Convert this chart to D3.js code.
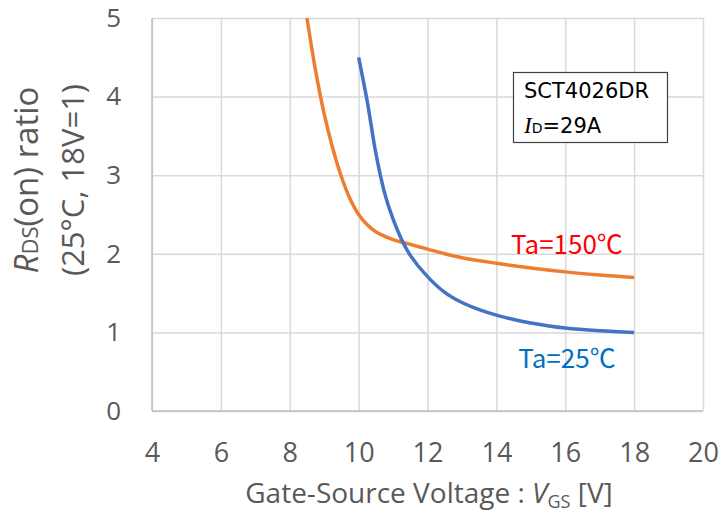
<!DOCTYPE html>
<html>
<head>
<meta charset="utf-8">
<script src="https://cdn.jsdelivr.net/npm/d3@7"></script>
<style>
  body { margin: 0; background: #fff; }
  svg { display: block; }
</style>
</head>
<body>
<script>
// Data
const xTicks = [4, 6, 8, 10, 12, 14, 16, 18, 20];
const yTicks = [0, 1, 2, 3, 4, 5];

const vgsHot = [8.5, 8.75, 9, 9.25, 9.5, 9.75, 10, 10.25, 10.5, 11, 11.5, 12, 12.5, 13, 14, 15, 16, 17, 18];
const ratioHot = [5.0, 4.33, 3.78, 3.34, 2.98, 2.70, 2.50, 2.37, 2.28, 2.18, 2.12, 2.06, 2.0, 1.95, 1.88, 1.82, 1.77, 1.73, 1.70];

const vgsRoom = [10, 10.25, 10.5, 10.75, 11, 11.25, 11.5, 12, 12.5, 13, 13.5, 14, 14.5, 15, 16, 17, 18];
const ratioRoom = [4.5, 3.94, 3.28, 2.78, 2.44, 2.18, 1.98, 1.71, 1.51, 1.38, 1.29, 1.22, 1.165, 1.12, 1.055, 1.02, 1.0];

const width = 723, height = 519;
const pLeft = 152, pRight = 703, pTop = 18, pBottom = 411;
const sans = '"Open Sans", sans-serif';

const svg = d3.select('body')
              .append('svg')
              .attr('width', width)
              .attr('height', height);

const x = d3.scaleLinear().domain([4, 20]).range([pLeft, pRight]);
const y = d3.scaleLinear().domain([0, 5]).range([pBottom, pTop]);

// grid lines
svg.append('g')
   .attr('transform', `translate(0,${pBottom})`)
   .call(d3.axisBottom(x).tickValues(xTicks).tickSize(-(pBottom - pTop)).tickFormat(''))
   .call(g => g.select('.domain').remove())
   .selectAll('line').attr('stroke', '#d9d9d9').attr('stroke-width', 1.5);

svg.append('g')
   .attr('transform', `translate(${pLeft},0)`)
   .call(d3.axisLeft(y).tickValues(yTicks).tickSize(-(pRight - pLeft)).tickFormat(''))
   .call(g => g.select('.domain').remove())
   .selectAll('line').attr('stroke', '#d9d9d9').attr('stroke-width', 1.5);

// axis lines
svg.append('line').attr('x1', pLeft).attr('x2', pLeft).attr('y1', pTop).attr('y2', pBottom)
   .attr('stroke', '#bfbfbf').attr('stroke-width', 1.5);
svg.append('line').attr('x1', pLeft).attr('x2', pRight).attr('y1', pBottom).attr('y2', pBottom)
   .attr('stroke', '#bfbfbf').attr('stroke-width', 1.5);

// tick labels
const xAxis = svg.append('g')
   .attr('transform', `translate(0,${pBottom})`)
   .call(d3.axisBottom(x).tickValues(xTicks).tickSize(0).tickPadding(32).tickFormat(d3.format('d')));
xAxis.select('.domain').remove();
xAxis.selectAll('text')
     .attr('fill', '#595959').style('font-family', sans).style('font-size', '27px');

const yAxis = svg.append('g')
   .attr('transform', `translate(${pLeft},0)`)
   .call(d3.axisLeft(y).tickValues(yTicks).tickSize(0).tickPadding(31).tickFormat(d3.format('d')));
yAxis.select('.domain').remove();
yAxis.selectAll('text')
     .attr('fill', '#595959').style('font-family', sans).style('font-size', '26px');

// curves
svg.append('clipPath').attr('id', 'plot')
   .append('rect').attr('x', pLeft).attr('y', pTop).attr('width', pRight - pLeft).attr('height', pBottom - pTop);

const line = d3.line()
               .x(d => x(d[0]))
               .y(d => y(d[1]))
               .curve(d3.curveCatmullRom.alpha(0.5));

svg.append('path')
   .datum(d3.zip(vgsHot, ratioHot))
   .attr('clip-path', 'url(#plot)')
   .attr('fill', 'none')
   .attr('stroke', '#ed7d31')
   .attr('stroke-width', 3.5)
   .attr('d', line);

svg.append('path')
   .datum(d3.zip(vgsRoom, ratioRoom))
   .attr('fill', 'none')
   .attr('stroke', '#4472c4')
   .attr('stroke-width', 3.5)
   .attr('d', line);

// curve labels
const jp = '"Noto Sans CJK JP", sans-serif';
svg.append('text')
   .attr('x', x(16.05)).attr('y', y(2.0))
   .attr('text-anchor', 'middle')
   .attr('fill', '#ff0000')
   .style('font-family', jp).style('font-size', '26px')
   .text('Ta=150℃');

svg.append('text')
   .attr('x', x(16.05)).attr('y', y(0.55))
   .attr('text-anchor', 'middle')
   .attr('fill', '#0070c0')
   .style('font-family', jp).style('font-size', '26px')
   .text('Ta=25℃');

// info box
svg.append('rect')
   .attr('x', 513.5).attr('y', 72.5).attr('width', 154).attr('height', 70)
   .attr('fill', '#fff').attr('stroke', '#404040').attr('stroke-width', 1.2);

svg.append('text')
   .attr('x', 524).attr('y', 98)
   .attr('fill', '#000')
   .style('font-family', '"DejaVu Sans", sans-serif').style('font-size', '21px')
   .text('SCT4026DR');

const id = svg.append('text')
   .attr('x', 524).attr('y', 133)
   .attr('fill', '#000')
   .style('font-family', '"DejaVu Sans", sans-serif').style('font-size', '21px');
id.append('tspan').style('font-family', '"Liberation Serif", serif').style('font-style', 'italic').style('font-size', '23px').text('I');
id.append('tspan').style('font-size', '14px').text('D');
id.append('tspan').text('=29A');

// axis titles
const xt = svg.append('text')
   .attr('x', (245 + 613) / 2).attr('y', 503)
   .attr('text-anchor', 'middle')
   .attr('fill', '#595959')
   .style('font-family', sans).style('font-size', '28px');
xt.append('tspan').text('Gate-Source Voltage : ');
xt.append('tspan').style('font-style', 'italic').text('V');
xt.append('tspan').attr('dy', 5).style('font-size', '18px').text('GS');
xt.append('tspan').attr('dy', -5).text(' [V]');

const yt1 = svg.append('text')
   .attr('transform', 'translate(38,180) rotate(-90)')
   .attr('text-anchor', 'middle')
   .attr('fill', '#595959')
   .style('font-family', sans).style('font-size', '33px');
yt1.append('tspan').style('font-style', 'italic').text('R');
yt1.append('tspan').style('font-size', '22px').text('DS');
yt1.append('tspan').text('(on) ratio');

svg.append('text')
   .attr('transform', 'translate(84,180) rotate(-90)')
   .attr('text-anchor', 'middle')
   .attr('fill', '#595959')
   .style('font-family', sans).style('font-size', '31px')
   .text('(25°C, 18V=1)');
</script>
</body>
</html>
